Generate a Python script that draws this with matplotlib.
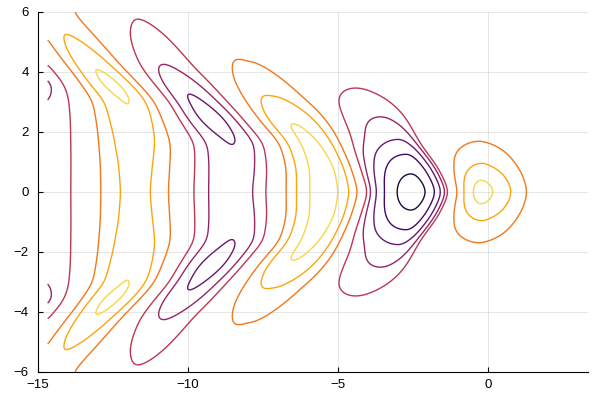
import numpy as np
import matplotlib
matplotlib.use("Agg")
import matplotlib.pyplot as plt
from matplotlib.colors import Normalize

# Crest and trough lines of the wave pattern.
# Upper half only (y >= 0), the picture is mirrored about y = 0.
# Each entry: x, y, size of the field on the line (sign alternates line to line).
crest_far_left = [(-18.3, 0.0, 1.0), (-18.2, 2.5, 1.0), (-18.7, 4.0, 1.0), (-20.0, 6.6, 0.8)]
trough_far_left = [(-15.0, 0.0, 2.0), (-15.0, 1.2, 2.0), (-15.0, 2.4, 1.95),
                   (-15.05, 3.0, 1.95), (-15.1, 3.6, 2.5), (-15.4, 4.1, 2.1),
                   (-15.9, 4.7, 1.9), (-16.6, 5.6, 1.6), (-17.4, 6.6, 1.3)]
crest_left = [(-11.79, 0.0, 2.25), (-11.8, 1.0, 2.35), (-11.88, 2.0, 2.6), (-12.04, 3.04, 3.05),
              (-12.55, 3.58, 3.35), (-13.07, 4.12, 3.05), (-13.55, 4.65, 2.5),
              (-14.05, 5.25, 2.0), (-14.6, 6.0, 1.6), (-15.1, 6.6, 1.3)]
trough_mid = [(-8.66, 0.0, 2.6), (-8.56, 0.9, 2.75), (-8.49, 1.62, 3.0), (-9.24, 2.48, 3.55),
              (-9.99, 3.34, 3.0), (-10.7, 4.2, 2.0), (-11.35, 5.6, 1.0), (-12.0, 6.6, 0.75)]
crest_mid = [(-5.46, 0.0, 3.5), (-5.5, 0.8, 3.45), (-5.9, 1.6, 3.25), (-6.6, 2.4, 3.0),
             (-7.21, 3.18, 2.0), (-7.75, 3.95, 1.25), (-8.0, 4.35, 1.0),
             (-8.6, 5.0, 0.65), (-9.3, 5.8, 0.4), (-10.0, 6.6, 0.25)]
trough_main = [(-2.47, 0.0, 5.6), (-2.55, 0.65, 5.0), (-2.7, 1.3, 4.0), (-2.9, 1.7, 3.0),
               (-3.55, 2.5, 2.0), (-4.3, 3.35, 1.05), (-5.05, 4.2, 0.55),
               (-5.85, 5.1, 0.28), (-6.9, 6.6, 0.1)]
crest_right = [(-0.2, 0.0, 3.55), (-0.19, 0.42, 3.05), (-0.17, 0.93, 2.0), (-0.2, 1.64, 1.0),
               (-0.6, 2.4, 0.45), (-1.3, 3.2, 0.2), (-2.1, 4.1, 0.1), (-3.1, 5.1, 0.05),
               (-4.3, 6.6, 0.0)]
trough_far_right = [(4.2, 0.0, 0.5), (3.8, 1.5, 0.4), (2.8, 3.0, 0.3), (1.3, 4.5, 0.2),
                    (-0.3, 6.0, 0.1), (-0.8, 6.6, 0.1)]

# zero lines on both sides of the deep trough: x, y
zero_before_main = [(-4.06, 0.0), (-4.42, 1.0), (-4.86, 2.07), (-5.3, 2.73), (-5.9, 3.42),
                    (-6.55, 4.3), (-8.45, 6.6)]
zero_after_main = [(-1.225, 0.0), (-1.6, 0.8), (-2.19, 1.6), (-2.66, 2.7), (-3.2, 3.5),
                   (-4.4, 5.0), (-5.5, 6.6)]

# flatness of each crest/trough (1 = plain cosine, < 1 flatter, > 1 sharper)
flatness = [1.0, 1.0, 1.0, 1.0, 1.0, 0.6, 1.2, 1.0]

levels = [-5, -4, -3, -2, -1, 1, 2, 3]

wave_lines = [crest_far_left, trough_far_left, crest_left, trough_mid,
              crest_mid, trough_main, crest_right, trough_far_right]
zero_lines = [(4.5, zero_before_main), (5.5, zero_after_main)]

xs = np.linspace(-14.68, 3.333, 901)
ys = np.linspace(-6.0, 6.0, 601)
ay = np.abs(ys)


def smooth(v, cells):
    k = np.exp(-0.5 * (np.arange(-3 * cells, 3 * cells + 1) / cells) ** 2)
    k /= k.sum()
    pad = 3 * cells
    return np.convolve(np.pad(v, pad, mode="edge"), k, mode="same")[pad:-pad]


def along(nodes, col):
    arr = np.array(nodes, float)
    return smooth(np.interp(ay, arr[:, 1], arr[:, col]), 10)


line_x = np.array([along(n, 0) for n in wave_lines])
line_a = np.array([along(n, 2) for n in wave_lines])
zero_x = [(k, along(n, 0)) for k, n in zero_lines]
split = [int(k) for k, _ in zero_lines]
flat = np.array(flatness)

Z = np.zeros((len(ys), len(xs)))
for i in range(len(ys)):
    pts = [(line_x[j, i], float(j)) for j in range(len(wave_lines))]
    pts += [(zx[i], k) for k, zx in zero_x]
    pts.sort(key=lambda t: t[1])
    pos = [p for p, _ in pts]
    phs = [q for _, q in pts]
    ph = np.interp(xs, pos, phs)
    near = np.clip(np.round(ph).astype(int), 0, len(wave_lines) - 1)
    amp = np.interp(xs, line_x[:, i], line_a[:, i])
    sharp = np.isin(np.floor(ph).astype(int), split)
    amp = np.where(sharp, line_a[near, i], amp)
    c = np.cos(np.pi * ph)
    Z[i] = amp * np.sign(c) * np.abs(c) ** flat[near]

Z = np.apply_along_axis(smooth, 1, Z, 3)
Z = np.apply_along_axis(smooth, 0, Z, 3)

plt.rcParams["font.family"] = ["Liberation Sans", "DejaVu Sans"]
fig = plt.figure(figsize=(6, 4), dpi=100)
ax = fig.add_axes([38 / 600, 28 / 400, 550 / 600, 360 / 400])

ax.contour(xs, ys, Z, levels=levels, cmap="inferno", norm=Normalize(-6, 4),
           linewidths=1.0)

ax.set_xlim(-15, 3.333)
ax.set_ylim(-6, 6)
ax.set_xticks([-15, -10, -5, 0])
ax.set_yticks([-6, -4, -2, 0, 2, 4, 6])
ax.grid(True, color="#000000", alpha=0.1, linewidth=0.7)
ax.set_axisbelow(True)
for side in ["top", "right"]:
    ax.spines[side].set_visible(False)
for side in ["left", "bottom"]:
    ax.spines[side].set_linewidth(0.8)
ax.tick_params(direction="in", length=3.5, width=0.8, labelsize=9.5, pad=5)
ax.tick_params(axis="y", pad=6.5)

fig.savefig("out.png", dpi=100, facecolor="white")
